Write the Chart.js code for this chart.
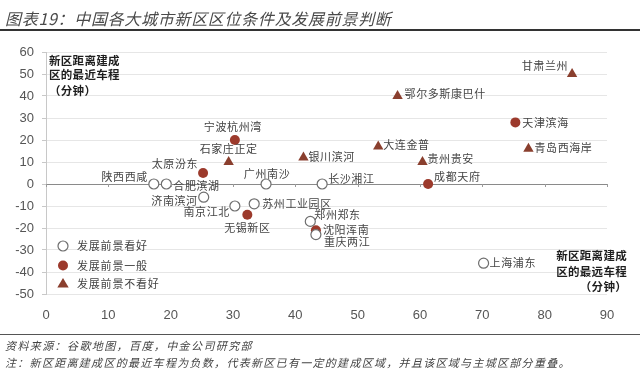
<!DOCTYPE html>
<html>
<head>
<meta charset="utf-8">
<script src="https://cdn.jsdelivr.net/npm/chart.js@4"></script>
<style>
  html, body { margin: 0; padding: 0; background: #fff; }
  #wrap { position: relative; width: 640px; height: 373px; overflow: hidden; }
  #chart { position: absolute; left: 0; top: 0; }
  .cap { position: absolute; font-family: "Noto Sans CJK SC", sans-serif; font-style: italic; white-space: nowrap; }
  #title { left: 5px; top: 6px; font-size: 16px; letter-spacing: 0.7px; color: #4a4a4a; }
  #source { left: 5px; top: 337px; font-size: 11px; letter-spacing: 1.4px; color: #444; }
  #note { left: 5px; top: 354px; font-size: 11px; letter-spacing: 1.3px; color: #444; }
  .rule { position: absolute; left: 0; width: 640px; background: #333; }
</style>
</head>
<body>
<div id="wrap">
  <canvas id="chart" width="640" height="373"></canvas>
  <div class="cap" id="title">图表19：中国各大城市新区区位条件及发展前景判断</div>
  <div class="rule" style="top:29px;height:1.5px;"></div>
  <div class="rule" style="top:334px;height:1.2px;background:#555;"></div>
  <div class="cap" id="source">资料来源：谷歌地图，百度，中金公司研究部</div>
  <div class="cap" id="note">注：新区距离建成区的最近车程为负数，代表新区已有一定的建成区域，并且该区域与主城区部分重叠。</div>
</div>
<script>
// x = farthest drive (min), y = nearest drive (min)
const GOOD_NAMES = ['陕西西咸', '合肥滨湖', '广州南沙', '长沙湘江', '济南滨河', '南京江北', '苏州工业园区', '郑州郑东', '重庆两江', '上海浦东'];
const GOOD_X = [17.3, 19.3, 35.3, 44.3, 25.3, 30.3, 33.4, 42.4, 43.3, 70.2];
const GOOD_Y = [0, 0, 0, 0, -6, -10, -9, -17, -23, -36];

const MID_NAMES = ['太原汾东', '宁波杭州湾', '无锡新区', '沈阳浑南', '天津滨海', '成都天府'];
const MID_X = [25.2, 30.3, 32.3, 43.3, 75.3, 61.3];
const MID_Y = [5, 20, -14, -21, 28, 0];

const BAD_NAMES = ['石家庄正定', '银川滨河', '甘肃兰州', '鄂尔多斯康巴什', '大连金普', '青岛西海岸', '贵州贵安'];
const BAD_X = [29.3, 41.3, 84.4, 56.4, 53.3, 77.4, 60.4];
const BAD_Y = [10, 12, 50, 40, 17, 16, 10];

const SERIES_LABELS = ['发展前景看好', '发展前景一般', '发展前景不看好'];
const X_TICKS = [0, 10, 20, 30, 40, 50, 60, 70, 80, 90];
const Y_TICKS = [-50, -40, -30, -20, -10, 0, 10, 20, 30, 40, 50, 60];

// where each point's name sits relative to the marker: [dx, dy, align]
const LABEL_AT = {
  '陕西西咸': [-6, -7, 'right'], '合肥滨湖': [7, 2, 'left'], '广州南沙': [1, -10, 'center'],
  '长沙湘江': [6, -5, 'left'], '济南滨河': [-6, 4, 'right'], '南京江北': [-5, 6, 'right'],
  '苏州工业园区': [8, 0, 'left'], '郑州郑东': [4, -7, 'left'], '重庆两江': [8, 7, 'left'],
  '上海浦东': [6, 0, 'left'], '太原汾东': [-5, -9, 'right'], '宁波杭州湾': [-2, -13, 'center'],
  '无锡新区': [0, 13, 'center'], '沈阳浑南': [7, 0, 'left'], '天津滨海': [7, 0, 'left'],
  '成都天府': [6, -7, 'left'], '石家庄正定': [0, -13, 'center'], '银川滨河': [5, -1, 'left'],
  '甘肃兰州': [-4, -8, 'right'], '鄂尔多斯康巴什': [7, -2, 'left'], '大连金普': [5, -2, 'left'],
  '青岛西海岸': [6, -1, 'left'], '贵州贵安': [5, -3, 'left'],
};

const CJK = '"Noto Sans CJK SC", sans-serif';
const pts = (xs, ys, names) => xs.map((x, i) => ({ x, y: ys[i], name: names[i] }));

const pointLabels = {
  id: 'pointLabels',
  afterDatasetsDraw(chart) {
    const ctx = chart.ctx;
    ctx.save();
    ctx.font = '11px ' + CJK;
    ctx.fillStyle = '#444';
    ctx.textBaseline = 'middle';
    if ('letterSpacing' in ctx) ctx.letterSpacing = '0.6px';
    chart.data.datasets.forEach((ds, di) => {
      chart.getDatasetMeta(di).data.forEach((el, i) => {
        const name = ds.data[i].name;
        const [dx, dy, align] = LABEL_AT[name] || [6, 0, 'left'];
        ctx.textAlign = align;
        ctx.fillText(name, el.x + dx, el.y + dy);
      });
    });
    ctx.restore();
  }
};

const extras = {
  id: 'extras',
  afterDraw(chart) {
    const ctx = chart.ctx;
    const xs = chart.scales.x, ys = chart.scales.y;
    const y0 = ys.getPixelForValue(0);
    ctx.save();
    // small ticks on the zero line
    ctx.strokeStyle = '#9a9a9a';
    ctx.lineWidth = 1;
    X_TICKS.forEach(v => {
      const px = Math.round(xs.getPixelForValue(v)) + 0.5;
      ctx.beginPath(); ctx.moveTo(px, y0); ctx.lineTo(px, y0 + 3); ctx.stroke();
    });

    // legend inside the plot
    const lx = 63, ly = [246, 265.5, 284];
    chart.data.datasets.forEach((ds, i) => {
      ctx.fillStyle = ds.backgroundColor; ctx.strokeStyle = ds.borderColor; ctx.lineWidth = ds.borderWidth;
      ctx.beginPath();
      if (ds.pointStyle === 'triangle') {
        const r = ds.pointRadius;
        ctx.moveTo(lx, ly[i] - r); ctx.lineTo(lx + r * 0.95, ly[i] + r * 0.6); ctx.lineTo(lx - r * 0.95, ly[i] + r * 0.6);
        ctx.closePath();
      } else {
        ctx.arc(lx, ly[i], ds.pointRadius, 0, Math.PI * 2);
      }
      ctx.fill(); if (ds.borderWidth) ctx.stroke();
    });
    ctx.font = '11px ' + CJK;
    ctx.fillStyle = '#444';
    ctx.textAlign = 'left';
    ctx.textBaseline = 'middle';
    if ('letterSpacing' in ctx) ctx.letterSpacing = '0.8px';
    SERIES_LABELS.forEach((t, i) => ctx.fillText(t, 77, ly[i]));

    // axis titles
    ctx.font = 'bold 11.5px ' + CJK;
    ctx.fillStyle = '#1e1e1e';
    if ('letterSpacing' in ctx) ctx.letterSpacing = '0.3px';
    ['新区距离建成', '区的最近车程', '（分钟）'].forEach((t, i) => ctx.fillText(t, 49, [61, 75, 91][i]));
    ctx.textAlign = 'right';
    ['新区距离建成', '区的最远车程', '（分钟）'].forEach((t, i) => ctx.fillText(t, 627, [256, 272, 287][i]));
    ctx.restore();
  }
};

new Chart(document.getElementById('chart'), {
  type: 'scatter',
  data: {
    datasets: [
      { label: SERIES_LABELS[0], data: pts(GOOD_X, GOOD_Y, GOOD_NAMES), pointStyle: 'circle', pointRadius: 5,
        backgroundColor: '#ffffff', borderColor: '#6e6e6e', borderWidth: 1.2 },
      { label: SERIES_LABELS[1], data: pts(MID_X, MID_Y, MID_NAMES), pointStyle: 'circle', pointRadius: 5,
        backgroundColor: '#9c3a2c', borderColor: '#9c3a2c', borderWidth: 0 },
      { label: SERIES_LABELS[2], data: pts(BAD_X, BAD_Y, BAD_NAMES), pointStyle: 'triangle', pointRadius: 6,
        backgroundColor: '#8a3f2e', borderColor: '#8a3f2e', borderWidth: 0 },
    ],
  },
  options: {
    responsive: false,
    animation: false,
    devicePixelRatio: 1,
    layout: { padding: { left: 0, right: 33, top: 52, bottom: 49 } },
    plugins: { legend: { display: false }, tooltip: { enabled: false } },
    elements: { point: { hoverRadius: 5 } },
    scales: {
      x: {
        type: 'linear', min: 0, max: 90,
        afterBuildTicks: s => { s.ticks = X_TICKS.map(v => ({ value: v })); },
        afterFit: s => { s.height = 30; },
        grid: { display: false },
        border: { display: false },
        ticks: { color: '#555', font: { family: 'Liberation Sans, Arial', size: 13 }, padding: 6 },
      },
      y: {
        type: 'linear', min: -50, max: 60,
        afterBuildTicks: s => { s.ticks = Y_TICKS.map(v => ({ value: v })); },
        afterFit: s => { s.width = 46; },
        grid: {
          color: c => c.tick && c.tick.value === 0 ? '#8a8a8a' : '#e6e6e6',
          tickColor: '#c8c8c8', tickLength: 4,
        },
        border: { display: true, color: '#c8c8c8' },
        ticks: { color: '#555', font: { family: 'Liberation Sans, Arial', size: 13 }, padding: 8 },
      },
    },
  },
  plugins: [pointLabels, extras],
});
</script>
</body>
</html>
